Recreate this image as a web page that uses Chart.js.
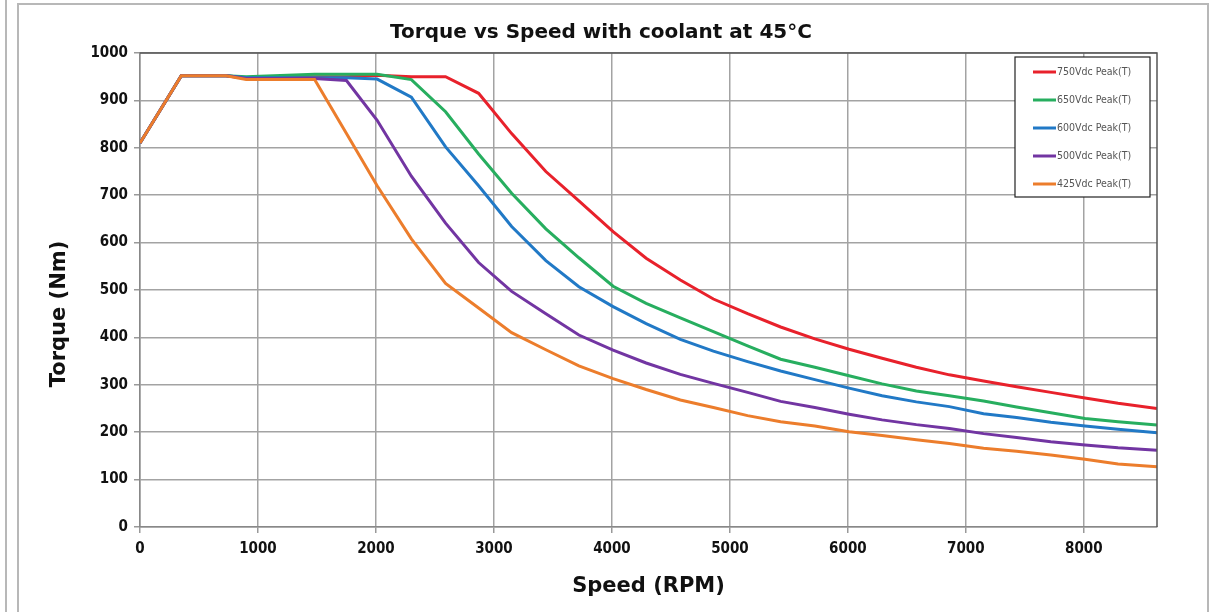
<!DOCTYPE html>
<html>
<head>
<meta charset="utf-8">
<script src="https://cdn.jsdelivr.net/npm/chart.js@4.4.1/dist/chart.umd.min.js"></script>
<style>
  html, body { margin: 0; padding: 0; background: #fff; }
  body { width: 1214px; height: 612px; position: relative; overflow: hidden; }
  .edge { position: absolute; left: 5px; top: 0; width: 2px; height: 612px; background: #b8b8b8; }
  .frame { position: absolute; left: 17px; top: 3px; width: 1188px; height: 620px; border: 2px solid #b8b8b8; }
  #wrap { position: absolute; left: 0; top: 0; width: 1214px; height: 612px; }
</style>
</head>
<body>
<div class="edge"></div>
<div class="frame"></div>
<div id="wrap"><canvas id="chart"></canvas></div>
<script>
// speed samples (RPM) shared by all curves
var speed = [0, 350, 730, 900, 1480, 1750, 2010, 2300, 2590, 2870, 3150, 3440, 3720, 4010, 4290,
             4580, 4860, 5150, 5430, 5720, 6010, 6290, 6580, 6860, 7150, 7430, 7720, 8010, 8290, 8620];

// peak torque (Nm) per supply voltage
var v750 = [810, 952, 952, 948, 950, 950, 953, 950, 950, 915, 830, 750, 688, 623, 567,
            521, 481, 450, 422, 397, 375, 356, 337, 321, 308, 296, 284, 272, 261, 250];
var v650 = [810, 952, 952, 950, 955, 955, 955, 944, 876, 787, 704, 629, 568, 508, 472,
            441, 412, 382, 354, 337, 319, 302, 287, 277, 266, 253, 241, 229, 222, 215];
var v600 = [810, 952, 952, 948, 948, 948, 945, 907, 802, 720, 634, 562, 507, 465, 429,
            396, 371, 349, 329, 311, 293, 277, 264, 254, 239, 231, 221, 213, 206, 199];
var v500 = [810, 952, 952, 946, 946, 942, 858, 740, 641, 558, 497, 450, 405, 373, 346,
            322, 303, 284, 265, 252, 238, 226, 216, 208, 197, 189, 180, 173, 167, 162];
var v425 = [810, 952, 952, 944, 944, 830, 720, 608, 514, 462, 410, 374, 340, 313, 290,
            268, 252, 235, 222, 213, 201, 193, 184, 176, 166, 160, 152, 143, 133, 127];

var xTicks = [0, 1000, 2000, 3000, 4000, 5000, 6000, 7000, 8000];
var seriesNames = ['750Vdc Peak(T)', '650Vdc Peak(T)', '600Vdc Peak(T)', '500Vdc Peak(T)', '425Vdc Peak(T)'];
var color = {
    v750: '#e8212b',
    v650: '#27ae5f',
    v600: '#2179c6',
    v500: '#7235a2',
    v425: '#ec7d2c'
};

function pts(arr) {
    return speed.map(function (s, i) { return { x: s, y: arr[i] }; });
}

// later series sit on top, like the original sheet
function ds(label, arr, c, order) {
    return {
        label: label,
        data: pts(arr),
        borderColor: c,
        backgroundColor: c,
        borderWidth: 3,
        pointRadius: 0,
        tension: 0,
        fill: false,
        order: order
    };
}

var FONT = "'DejaVu Sans Condensed', 'DejaVu Sans', sans-serif";
var WIDE = "'DejaVu Sans', Verdana, sans-serif";
Chart.defaults.font.family = FONT;
Chart.defaults.color = '#111';

// box round the plot area, y title (sits a bit low on the original) and the legend
var framePlugin = {
    id: 'frameAndLegend',
    afterDraw: function (chart) {
        var ctx = chart.ctx, a = chart.chartArea;
        ctx.save();
        ctx.strokeStyle = '#555';
        ctx.lineWidth = 1.5;
        ctx.beginPath();
        ctx.moveTo(a.left, a.top);
        ctx.lineTo(a.right, a.top);
        ctx.lineTo(a.right, a.bottom);
        ctx.stroke();

        ctx.save();
        ctx.translate(60, 314);
        ctx.rotate(-Math.PI / 2);
        ctx.font = 'bold 21px ' + WIDE;
        ctx.fillStyle = '#111';
        ctx.textAlign = 'center';
        ctx.textBaseline = 'middle';
        ctx.fillText('Torque (Nm)', 0, 0);
        ctx.restore();

        var bx = a.right - 142, by = a.top + 4, bw = 135, bh = 140;
        ctx.fillStyle = '#fff';
        ctx.fillRect(bx, by, bw, bh);
        ctx.strokeStyle = '#222';
        ctx.lineWidth = 1.2;
        ctx.strokeRect(bx, by, bw, bh);

        ctx.font = '10.5px ' + FONT;
        ctx.textBaseline = 'middle';
        chart.data.datasets.forEach(function (d, i) {
            var y = by + 15 + i * 28;
            ctx.strokeStyle = d.borderColor;
            ctx.lineWidth = 3;
            ctx.beginPath();
            ctx.moveTo(bx + 18, y);
            ctx.lineTo(bx + 41, y);
            ctx.stroke();
            ctx.fillStyle = '#555';
            ctx.fillText(d.label, bx + 42, y);
        });
        ctx.restore();
    }
};

var ctx = document.getElementById('chart').getContext('2d');
var chart = new Chart(ctx, {
    type: 'line',
    data: {
        datasets: [
            ds(seriesNames[0], v750, color.v750, 4),
            ds(seriesNames[1], v650, color.v650, 3),
            ds(seriesNames[2], v600, color.v600, 2),
            ds(seriesNames[3], v500, color.v500, 1),
            ds(seriesNames[4], v425, color.v425, 0)
        ]
    },
    options: {
        responsive: true,
        maintainAspectRatio: false,
        animation: false,
        layout: { padding: { left: 45, right: 57, top: 21, bottom: 10 } },
        plugins: {
            legend: { display: false },
            tooltip: { enabled: false },
            title: {
                display: true,
                text: 'Torque vs Speed with coolant at 45°C',
                font: { family: WIDE, size: 20, weight: 'bold' },
                color: '#111',
                padding: { top: 0, bottom: 8 }
            }
        },
        scales: {
            x: {
                type: 'linear',
                min: 0,
                max: 8620,
                afterFit: function (s) { s.height = 75; },
                afterBuildTicks: function (s) {
                    s.ticks = xTicks.map(function (v) { return { value: v }; });
                },
                ticks: {
                    font: { size: 15, weight: 'bold' },
                    color: '#111',
                    padding: 7,
                    maxRotation: 0,
                    callback: function (v) { return String(v); }
                },
                grid: { color: '#a3a3a3', lineWidth: 1.5, tickLength: 6, tickColor: '#999' },
                border: { color: '#888', width: 1.5 },
                title: {
                    display: true,
                    text: 'Speed (RPM)',
                    font: { family: WIDE, size: 21, weight: 'bold' },
                    color: '#111',
                    padding: { top: 0, bottom: 3 }
                }
            },
            y: {
                min: 0,
                max: 1000,
                afterFit: function (s) { s.width = 95; },
                ticks: {
                    stepSize: 100,
                    font: { size: 15, weight: 'bold' },
                    color: '#111',
                    padding: 6,
                    callback: function (v) { return String(v); }
                },
                grid: { color: '#a3a3a3', lineWidth: 1.5, tickLength: 6, tickColor: '#999' },
                border: { color: '#888', width: 1.5 },
                title: { display: false }
            }
        }
    },
    plugins: [framePlugin]
});
</script>
</body>
</html>
